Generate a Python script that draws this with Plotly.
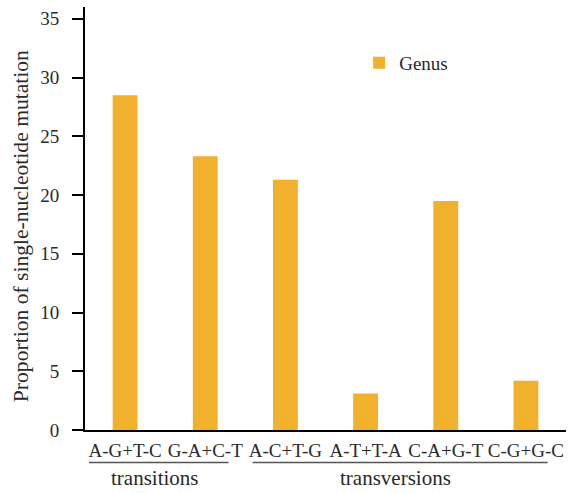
import plotly.graph_objects as go

# Substitution classes and their share of single-nucleotide mutations (%)
categories = ["A-G+T-C", "G-A+C-T", "A-C+T-G", "A-T+T-A", "C-A+G-T", "C-G+G-C"]
genus_values = [28.5, 23.3, 21.3, 3.1, 19.5, 4.2]
y_ticks = [0, 5, 10, 15, 20, 25, 30, 35]
group_names = ["transitions", "transversions"]
y_title = "Proportion of single-nucleotide mutation"

FONT = "Liberation Serif"
BAR_COLOR = "#F1B12D"
TEXT_COLOR = "#2a2a2a"

fig = go.Figure()
fig.add_trace(go.Bar(
    x=categories,
    y=genus_values,
    name="Genus",
    marker=dict(color=BAR_COLOR, line=dict(width=0)),
))

# Group labels with underlines beneath the category ticks
group_spans = [(-0.45, 1.29), (1.59, 5.27)]
group_centers = [0.37, 3.37]
for name, (x0, x1), xc in zip(group_names, group_spans, group_centers):
    fig.add_shape(type="line", xref="x", yref="paper",
                  x0=x0, x1=x1, y0=-0.077, y1=-0.077,
                  line=dict(color="#555555", width=1.5))
    fig.add_annotation(text=name, xref="x", yref="paper",
                       x=xc, y=-0.113, showarrow=False,
                       xanchor="center", yanchor="middle",
                       font=dict(family=FONT, size=21, color=TEXT_COLOR))

# Rotated y-axis title
fig.add_annotation(text=y_title, xref="paper", yref="paper",
                   x=-0.133, y=0.482, showarrow=False, textangle=-90,
                   xanchor="center", yanchor="middle",
                   font=dict(family=FONT, size=21.6, color=TEXT_COLOR))

fig.update_layout(
    width=571, height=493,
    margin=dict(l=85, r=5, t=7, b=63),
    paper_bgcolor="white", plot_bgcolor="white",
    bargap=0.69,
    showlegend=True,
    legend=dict(x=0.57, y=0.868, xanchor="left", yanchor="middle",
                bgcolor="rgba(0,0,0,0)",
                font=dict(family=FONT, size=19, color=TEXT_COLOR),
                itemwidth=30),
    font=dict(family=FONT, size=18, color=TEXT_COLOR),
)
fig.update_xaxes(
    showline=True, linecolor="black", linewidth=2,
    ticks="", showgrid=False, zeroline=False,
    ticklabelstandoff=2,
    tickfont=dict(family=FONT, size=19, color=TEXT_COLOR),
)
fig.update_yaxes(
    range=[0, 36], tickvals=y_ticks,
    showline=True, linecolor="black", linewidth=2,
    ticks="outside", ticklen=11, tickwidth=1.5, tickcolor="black",
    showgrid=False, zeroline=False,
    ticklabelstandoff=9,
    tickfont=dict(family=FONT, size=19, color=TEXT_COLOR),
)

fig.write_html("out.html")
